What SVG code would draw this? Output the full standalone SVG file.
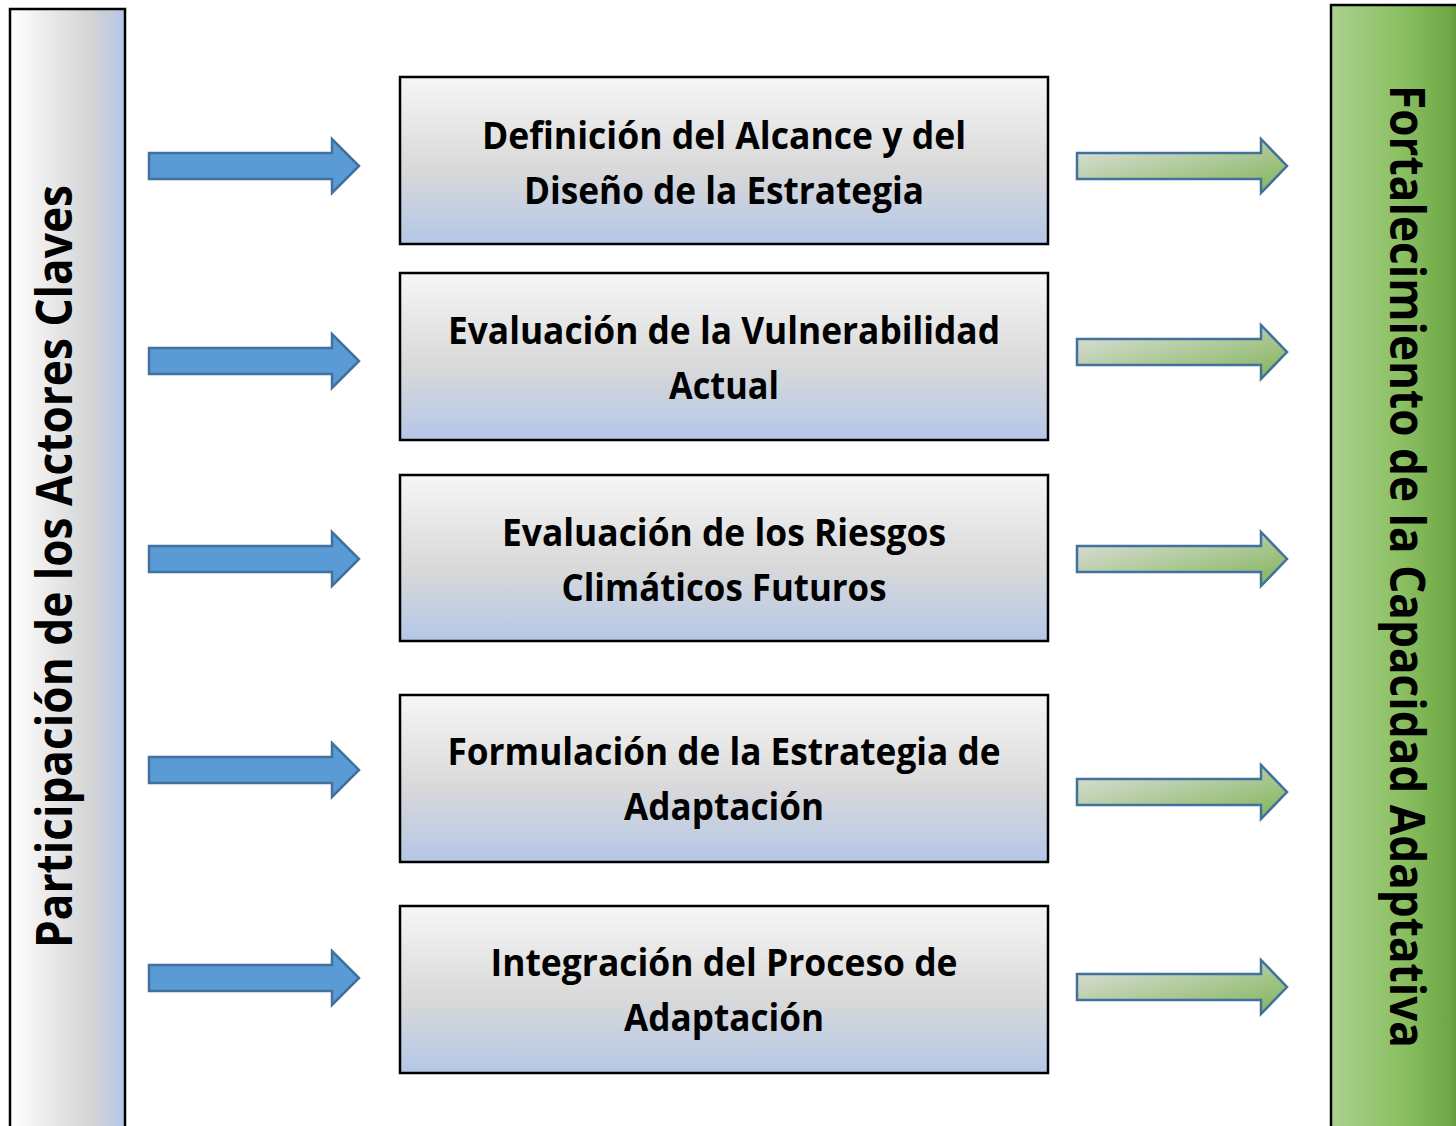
<svg xmlns="http://www.w3.org/2000/svg" width="1456" height="1126" viewBox="0 0 1456 1126">
<style>
.box{stroke:#000;stroke-width:2.5;fill:url(#boxGrad)}
.bt{font-family:"Open Sans",Lato,sans-serif;font-weight:bold;font-size:37px;fill:#000;text-anchor:middle}
.side{font-family:"Open Sans",Lato,sans-serif;font-weight:bold;font-size:41px;fill:#000;text-anchor:middle}
.ba{fill:#5b9bd5;stroke:#41719c;stroke-width:2.5}
.ga{fill:url(#greenArrow);stroke:#41719c;stroke-width:2.5}
</style>
<defs>
<linearGradient id="leftGrad" x1="0" y1="0" x2="1" y2="0">
<stop offset="0" stop-color="#ffffff"/>
<stop offset="0.7" stop-color="#d4d4d4"/>
<stop offset="1" stop-color="#b4c7e7"/>
</linearGradient>
<linearGradient id="rightGrad" x1="0" y1="0" x2="1" y2="0">
<stop offset="0" stop-color="#a9d18e"/>
<stop offset="0.5" stop-color="#8cc063"/>
<stop offset="0.85" stop-color="#6ea745"/>
<stop offset="1" stop-color="#507f32"/>
</linearGradient>
<linearGradient id="boxGrad" x1="0" y1="0" x2="0" y2="1">
<stop offset="0" stop-color="#f6f6f6"/>
<stop offset="0.55" stop-color="#d9d9d9"/>
<stop offset="1" stop-color="#b4c7e7"/>
</linearGradient>
<linearGradient id="greenArrow" x1="0" y1="0" x2="1" y2="1">
<stop offset="0" stop-color="#e2e2e2"/>
<stop offset="1" stop-color="#7fb356"/>
</linearGradient>
</defs>

<g id="left-bar">
<rect x="10" y="9" width="115" height="1130" fill="url(#leftGrad)" stroke="#000" stroke-width="2.5"/>
<text class="side" transform="translate(72,566.5) rotate(-90) scale(1,1.24)" textLength="763" lengthAdjust="spacingAndGlyphs">Participación de los Actores Claves</text>
</g>

<g id="right-bar">
<rect x="1331" y="5" width="140" height="1135" fill="url(#rightGrad)" stroke="#000" stroke-width="2.5"/>
<text class="side" transform="translate(1390,566.5) rotate(90) scale(1,1.17)" textLength="963" lengthAdjust="spacingAndGlyphs">Fortalecimiento de la Capacidad Adaptativa</text>
</g>

<g id="box1">
<rect class="box" x="400" y="77" width="648" height="167"/>
<text class="bt" x="724" y="149" textLength="484" lengthAdjust="spacingAndGlyphs">Definición del Alcance y del</text>
<text class="bt" x="724" y="204" textLength="400" lengthAdjust="spacingAndGlyphs">Diseño de la Estrategia</text>
</g>
<g id="box2">
<rect class="box" x="400" y="273" width="648" height="167"/>
<text class="bt" x="724" y="344" textLength="552" lengthAdjust="spacingAndGlyphs">Evaluación de la Vulnerabilidad</text>
<text class="bt" x="724" y="399" textLength="110" lengthAdjust="spacingAndGlyphs">Actual</text>
</g>
<g id="box3">
<rect class="box" x="400" y="475" width="648" height="166"/>
<text class="bt" x="724" y="546" textLength="444" lengthAdjust="spacingAndGlyphs">Evaluación de los Riesgos</text>
<text class="bt" x="724" y="601" textLength="325" lengthAdjust="spacingAndGlyphs">Climáticos Futuros</text>
</g>
<g id="box4">
<rect class="box" x="400" y="695" width="648" height="167"/>
<text class="bt" x="724" y="765" textLength="553" lengthAdjust="spacingAndGlyphs">Formulación de la Estrategia de</text>
<text class="bt" x="724" y="820" textLength="200" lengthAdjust="spacingAndGlyphs">Adaptación</text>
</g>
<g id="box5">
<rect class="box" x="400" y="906" width="648" height="167"/>
<text class="bt" x="724" y="976" textLength="467" lengthAdjust="spacingAndGlyphs">Integración del Proceso de</text>
<text class="bt" x="724" y="1031" textLength="200" lengthAdjust="spacingAndGlyphs">Adaptación</text>
</g>

<g id="connectors">
<path class="ba" d="M149,153 H332 V139 L359,166 L332,193 V179 H149 Z"/>
<path class="ba" d="M149,348 H332 V334 L359,361 L332,388 V374 H149 Z"/>
<path class="ba" d="M149,546 H332 V532 L359,559 L332,586 V572 H149 Z"/>
<path class="ba" d="M149,757 H332 V743 L359,770 L332,797 V783 H149 Z"/>
<path class="ba" d="M149,965 H332 V951 L359,978 L332,1005 V991 H149 Z"/>
<path class="ga" d="M1077,153 H1261 V139 L1287,166 L1261,193 V179 H1077 Z"/>
<path class="ga" d="M1077,339 H1261 V325 L1287,352 L1261,379 V365 H1077 Z"/>
<path class="ga" d="M1077,546 H1261 V532 L1287,559 L1261,586 V572 H1077 Z"/>
<path class="ga" d="M1077,779 H1261 V765 L1287,792 L1261,819 V805 H1077 Z"/>
<path class="ga" d="M1077,974 H1261 V960 L1287,987 L1261,1014 V1000 H1077 Z"/>
</g>
</svg>
